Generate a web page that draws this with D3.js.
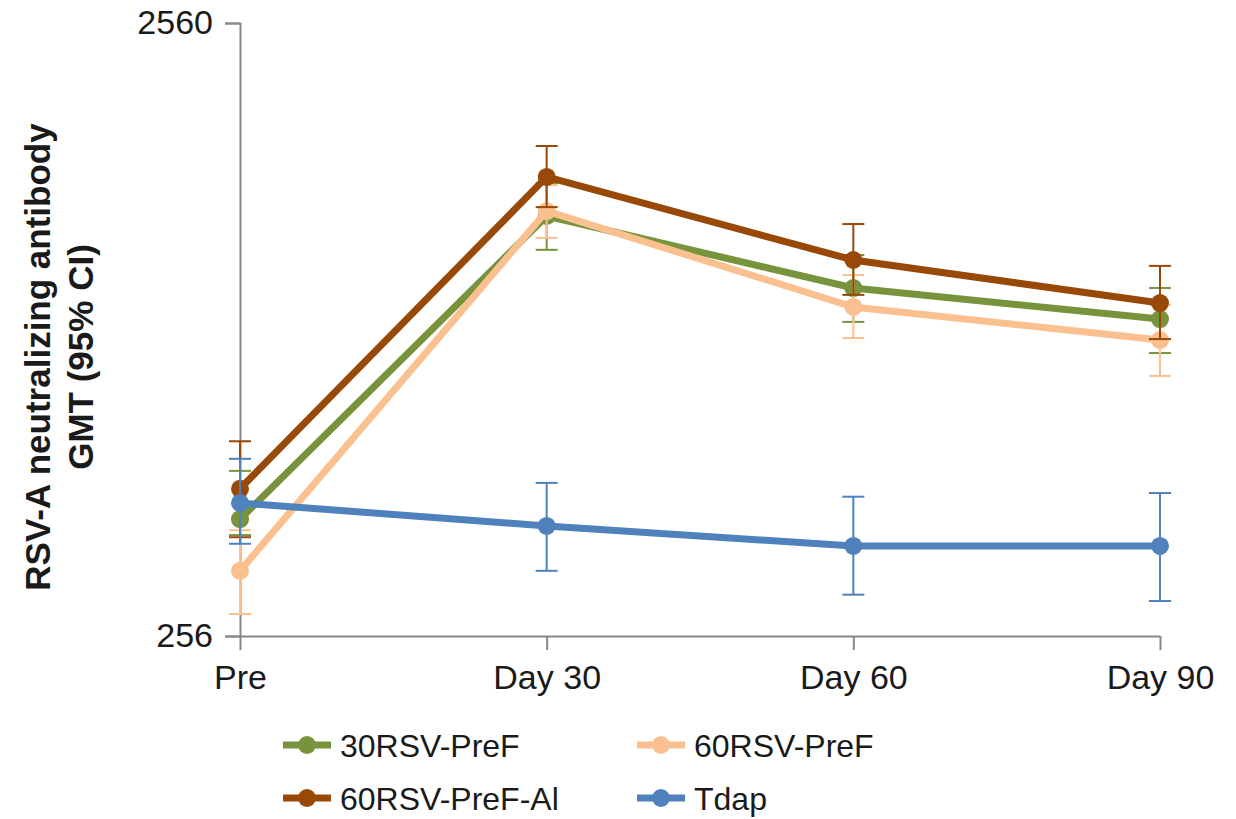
<!DOCTYPE html>
<html>
<head>
<meta charset="utf-8">
<title>RSV-A GMT</title>
<script src="https://d3js.org/d3.v7.min.js"></script>
<style>
  body { margin: 0; background: #fff; }
  text { font-family: "Liberation Sans", Arial, sans-serif; fill: #1a1a1a; }
</style>
</head>
<body>
<div id="chart"></div>
<script>
// categories and series (GMT with 95% CI)
var timepoints = ["Pre", "Day 30", "Day 60", "Day 90"];
var yTicks = [256, 2560];

var gmt30 = [397, 1240, 946, 842];
var lo30  = [374, 1092, 833, 741];
var hi30  = [476, 1403, 1071, 946];

var gmt60 = [327, 1263, 881, 778];
var lo60  = [278, 1142, 784, 680];
var hi60  = [381, 1393, 993, 888];

var gmt60Al = [445, 1436, 1051, 894];
var lo60Al  = [371, 1282, 922, 781];
var hi60Al  = [532, 1613, 1203, 1028];

var gmtTdap = [422, 387, 359, 359];
var loTdap  = [362, 327, 299, 292];
var hiTdap  = [498, 455, 432, 438];

var seriesNames = ["30RSV-PreF", "60RSV-PreF", "60RSV-PreF-Al", "Tdap"];
var colors = ["#77933c", "#fac090", "#984807", "#4f81bd"];

var series = [
  { name: seriesNames[0], color: colors[0], gmt: gmt30, lo: lo30, hi: hi30 },
  { name: seriesNames[1], color: colors[1], gmt: gmt60, lo: lo60, hi: hi60 },
  { name: seriesNames[2], color: colors[2], gmt: gmt60Al, lo: lo60Al, hi: hi60Al },
  { name: seriesNames[3], color: colors[3], gmt: gmtTdap, lo: loTdap, hi: hiTdap }
];

var W = 1236, H = 819;
var margin = { top: 23, right: 76, bottom: 183, left: 240 };
var width = W - margin.left - margin.right,
    height = H - margin.top - margin.bottom;

var svg = d3.select("#chart").append("svg")
  .attr("width", W).attr("height", H);
var g = svg.append("g")
  .attr("transform", "translate(" + margin.left + "," + margin.top + ")");

var x = d3.scalePoint().domain(timepoints).range([0, width]);
var y = d3.scaleLog().domain([256, 2560]).range([height, 0]);

// y axis
var yAxis = g.append("g")
  .call(d3.axisLeft(y).tickValues(yTicks).tickSize(15).tickPadding(12).tickFormat(d3.format("d")));
yAxis.select(".domain").attr("stroke", "#888").attr("stroke-width", 2);
yAxis.selectAll(".tick line").attr("stroke", "#888").attr("stroke-width", 2);
yAxis.selectAll(".tick text").style("font-size", "34px").attr("fill", "#1a1a1a");

// x axis
var xAxis = g.append("g")
  .attr("transform", "translate(0," + height + ")")
  .call(d3.axisBottom(x).tickSize(14).tickPadding(15).tickSizeOuter(0));
xAxis.select(".domain").attr("stroke", "#888").attr("stroke-width", 2);
xAxis.selectAll(".tick line").attr("stroke", "#888").attr("stroke-width", 2);
xAxis.selectAll(".tick text").style("font-size", "34px").attr("fill", "#1a1a1a");

// y axis title
var title = svg.append("text")
  .attr("transform", "translate(50,357) rotate(-90)")
  .attr("text-anchor", "middle")
  .style("font-size", "35px")
  .style("font-weight", "bold");
title.append("tspan").attr("x", 0).attr("dy", 0).text("RSV-A neutralizing antibody");
title.append("tspan").attr("x", 0).attr("dy", 43).text("GMT (95% CI)");

var line = d3.line()
  .x(function (d, i) { return x(timepoints[i]); })
  .y(function (d) { return y(d); });

var cap = 11;

series.forEach(function (s) {
  var sg = g.append("g");
  // error bars
  timepoints.forEach(function (t, i) {
    var cx = x(t);
    sg.append("line").attr("x1", cx).attr("x2", cx)
      .attr("y1", y(s.lo[i])).attr("y2", y(s.hi[i]))
      .attr("stroke", s.color).attr("stroke-width", 2);
    [s.lo[i], s.hi[i]].forEach(function (v) {
      sg.append("line").attr("x1", cx - cap).attr("x2", cx + cap)
        .attr("y1", y(v)).attr("y2", y(v))
        .attr("stroke", s.color).attr("stroke-width", 2);
    });
  });
  sg.append("path").datum(s.gmt)
    .attr("d", line)
    .attr("fill", "none")
    .attr("stroke", s.color)
    .attr("stroke-width", 7);
  sg.selectAll("circle").data(s.gmt).enter().append("circle")
    .attr("cx", function (d, i) { return x(timepoints[i]); })
    .attr("cy", function (d) { return y(d); })
    .attr("r", 9)
    .attr("fill", s.color);
});

// legend
var legendPos = [[283, 745], [637, 745], [283, 798], [637, 798]];
series.forEach(function (s, i) {
  var lg = svg.append("g").attr("transform", "translate(" + legendPos[i][0] + "," + legendPos[i][1] + ")");
  lg.append("line").attr("x1", 0).attr("x2", 48).attr("y1", 0).attr("y2", 0)
    .attr("stroke", s.color).attr("stroke-width", 7);
  lg.append("circle").attr("cx", 24).attr("cy", 0).attr("r", 9).attr("fill", s.color);
  lg.append("text").attr("x", 57).attr("y", 0).attr("dy", "0.36em")
    .style("font-size", "32px").text(s.name);
});
</script>
</body>
</html>
